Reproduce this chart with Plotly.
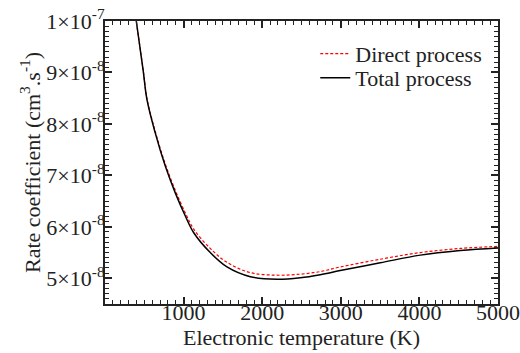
import plotly.graph_objects as go

# Electronic temperature (K)
temp_total = [360, 398, 487, 534, 640, 767, 894, 1022, 1127, 1339, 1552, 1849,
              2188, 2485, 2739, 2993, 3502, 4011, 4520, 5000]
# Rate coefficients in units of 1e-8 cm^3 s^-1
rate_total = [10.45, 10.0, 9.02, 8.47, 7.82, 7.18, 6.66, 6.21, 5.89, 5.50, 5.22, 5.03,
              4.98, 5.01, 5.07, 5.15, 5.30, 5.45, 5.54, 5.59]
temp_direct = temp_total
rate_direct = [10.45, 10.0, 9.03, 8.49, 7.85, 7.22, 6.71, 6.27, 5.96, 5.58, 5.31, 5.11,
               5.06, 5.08, 5.13, 5.22, 5.37, 5.50, 5.58, 5.62]

x_ticks = [1000, 2000, 3000, 4000, 5000]
y_ticks = [5, 6, 7, 8, 9, 10]
y_ticktext = ["5×10<sup>-8</sup>", "6×10<sup>-8</sup>", "7×10<sup>-8</sup>",
              "8×10<sup>-8</sup>", "9×10<sup>-8</sup>", "1×10<sup>-7</sup>"]

scale = 1e-8
fig = go.Figure()
fig.add_trace(go.Scatter(x=temp_direct, y=[v * scale for v in rate_direct], mode="lines",
                         name="Direct process", legend="legend",
                         line=dict(color="#ff0000", width=1.2, dash="3px,2px", shape="spline")))
fig.add_trace(go.Scatter(x=temp_total, y=[v * scale for v in rate_total], mode="lines",
                         name="Total process", legend="legend2",
                         line=dict(color="#000000", width=1.5, shape="spline")))

FAM = "Liberation Serif"
font = dict(family=FAM, size=22, color="#222222")
legend_common = dict(x=0.535, xanchor="left", yanchor="top", bgcolor="rgba(0,0,0,0)",
                     font=font, itemwidth=30)
fig.update_layout(
    template="none",
    width=520, height=353,
    margin=dict(l=105, r=22, t=21, b=49, autoexpand=False),
    paper_bgcolor="white", plot_bgcolor="white",
    font=font,
    showlegend=True,
    legend=dict(y=0.958, **legend_common),
    legend2=dict(y=0.873, **legend_common),
)
fig.update_xaxes(range=[0, 5000], tickmode="array", tickvals=x_ticks, automargin=False,
                 title_text="Electronic temperature (K)", title_font=font, title_standoff=0,
                 showline=True, linecolor="#222222", linewidth=2, mirror="allticks",
                 ticks="inside", ticklen=7, tickwidth=1.5, tickcolor="#222222",
                 ticklabelstandoff=-12,
                 showgrid=False, zeroline=False, tickfont=font,
                 minor=dict(dtick=100, tick0=0, ticks="inside", ticklen=4, tickwidth=1.2,
                            tickcolor="#222222", showgrid=False))
fig.update_yaxes(range=[4.5e-8, 1e-7], tickmode="array", tickvals=[v * scale for v in y_ticks],
                 ticktext=y_ticktext, automargin=False,
                 title_text="Rate coefficient (cm<sup>3</sup>.s<sup>-1</sup>)", title_font=font,
                 title_standoff=0,
                 showline=True, linecolor="#222222", linewidth=2, mirror="allticks",
                 ticks="inside", ticklen=7, tickwidth=1.5, tickcolor="#222222",
                 ticklabelstandoff=-6,
                 showgrid=False, zeroline=False, tickfont=font,
                 minor=dict(dtick=1e-9, tick0=0, ticks="inside", ticklen=4, tickwidth=1.2,
                            tickcolor="#222222", showgrid=False))
fig.write_html("out.html")
